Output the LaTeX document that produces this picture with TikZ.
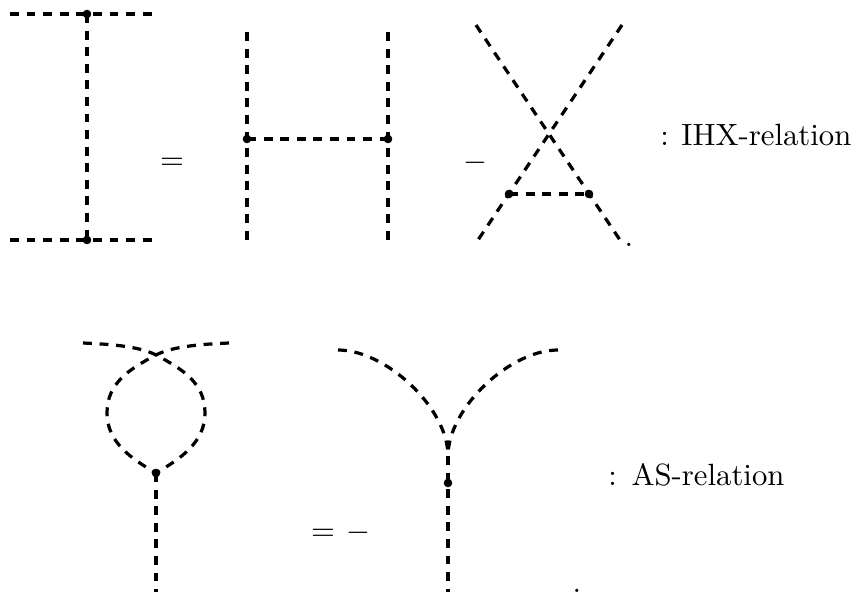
\documentclass[tikz,border=0pt]{standalone}
\begin{document}
\begin{tikzpicture}[x=0.3255pt,y=-0.3255pt,
  edge/.style={line width=1.05pt, dash pattern=on 2.9pt off 2.5pt},
  vtx/.style={circle, fill, inner sep=0pt, minimum size=2.8pt},
  sym/.style={inner sep=0pt, anchor=base},
  lbl/.style={inner sep=0pt, anchor=base west}]
\useasboundingbox (0,0) rectangle (856,595);

% ---- I diagram
\coordinate (i1) at (10,14); \coordinate (i2) at (155,14);
\coordinate (i3) at (10,240); \coordinate (i4) at (155,240);
\node[vtx] (it) at (87,14) {};
\node[vtx] (ib) at (87,240) {};
\draw[edge] (i1) -- (i2);
\draw[edge] (i3) -- (i4);
\draw[edge] (it.center) -- (ib.center);

\node[sym] (eq1) at (172,169.7) {$=$};

% ---- H diagram
\coordinate (h1) at (247,32); \coordinate (h2) at (247,245);
\coordinate (h3) at (388,32); \coordinate (h4) at (388,245);
\node[vtx] (hl) at (247,139) {};
\node[vtx] (hr) at (388,139) {};
\draw[edge] (h1) -- (h2);
\draw[edge] (h3) -- (h4);
\draw[edge] (hl.center) -- (hr.center);

\node[sym] (mi1) at (475,170.7) {$-$};

% ---- X diagram
\coordinate (x1) at (476,25); \coordinate (x2) at (622,243);
\coordinate (x3) at (622,25); \coordinate (x4) at (476,243);
\node[vtx] (xl) at (509,194) {};
\node[vtx] (xr) at (589,194) {};
\draw[edge] (x1) -- (x2);
\draw[edge] (x3) -- (x4);
\draw[edge] (xl.center) -- (xr.center);
\node[sym] (p1) at (629,246) {.};

\node[lbl] (t1) at (659.7,145) {:\hspace{4.1pt}IHX-relation};

% ---- loop diagram
\coordinate (l1) at (83,343); \coordinate (l2) at (229,343);
\coordinate (lc) at (156,355);
\coordinate (lr) at (205,413); \coordinate (ll) at (107,413);
\node[vtx] (lv) at (156,473) {};
\coordinate (lb) at (156,592);
\draw[edge] (l1) .. controls (105,344) and (138.3,345.6) .. (lc)
  .. controls (182.5,369) and (205,383) .. (lr)
  .. controls (205,442) and (181.1,458.5) .. (lv.center);
\draw[edge] (l2) .. controls (207,344) and (173.7,345.6) .. (lc)
  .. controls (129.5,369) and (107,383) .. (ll)
  .. controls (107,442) and (130.9,458.5) .. (lv.center);
\draw[edge] (lv.center) -- (lb);

\node[sym] (eq2) at (323,540.7) {$=$};
\node[sym] (mi2) at (358,540.7) {$-$};

% ---- Y diagram
\coordinate (ya) at (338,350); \coordinate (yb) at (558,350);
\coordinate (yj) at (448,456);
\node[vtx] (yv) at (448,483) {};
\coordinate (yc) at (448,592);
\draw[edge] (ya) .. controls (386,350) and (448,408) .. (yj);
\draw[edge] (yb) .. controls (510,350) and (448,408) .. (yj);
\draw[edge] (yj) -- (yv.center) -- (yc);
\node[sym] (p2) at (577,592.5) {.};

\node[lbl] (t2) at (607.7,485) {:\hspace{4.8pt}AS-relation};
\end{tikzpicture}
\end{document}
